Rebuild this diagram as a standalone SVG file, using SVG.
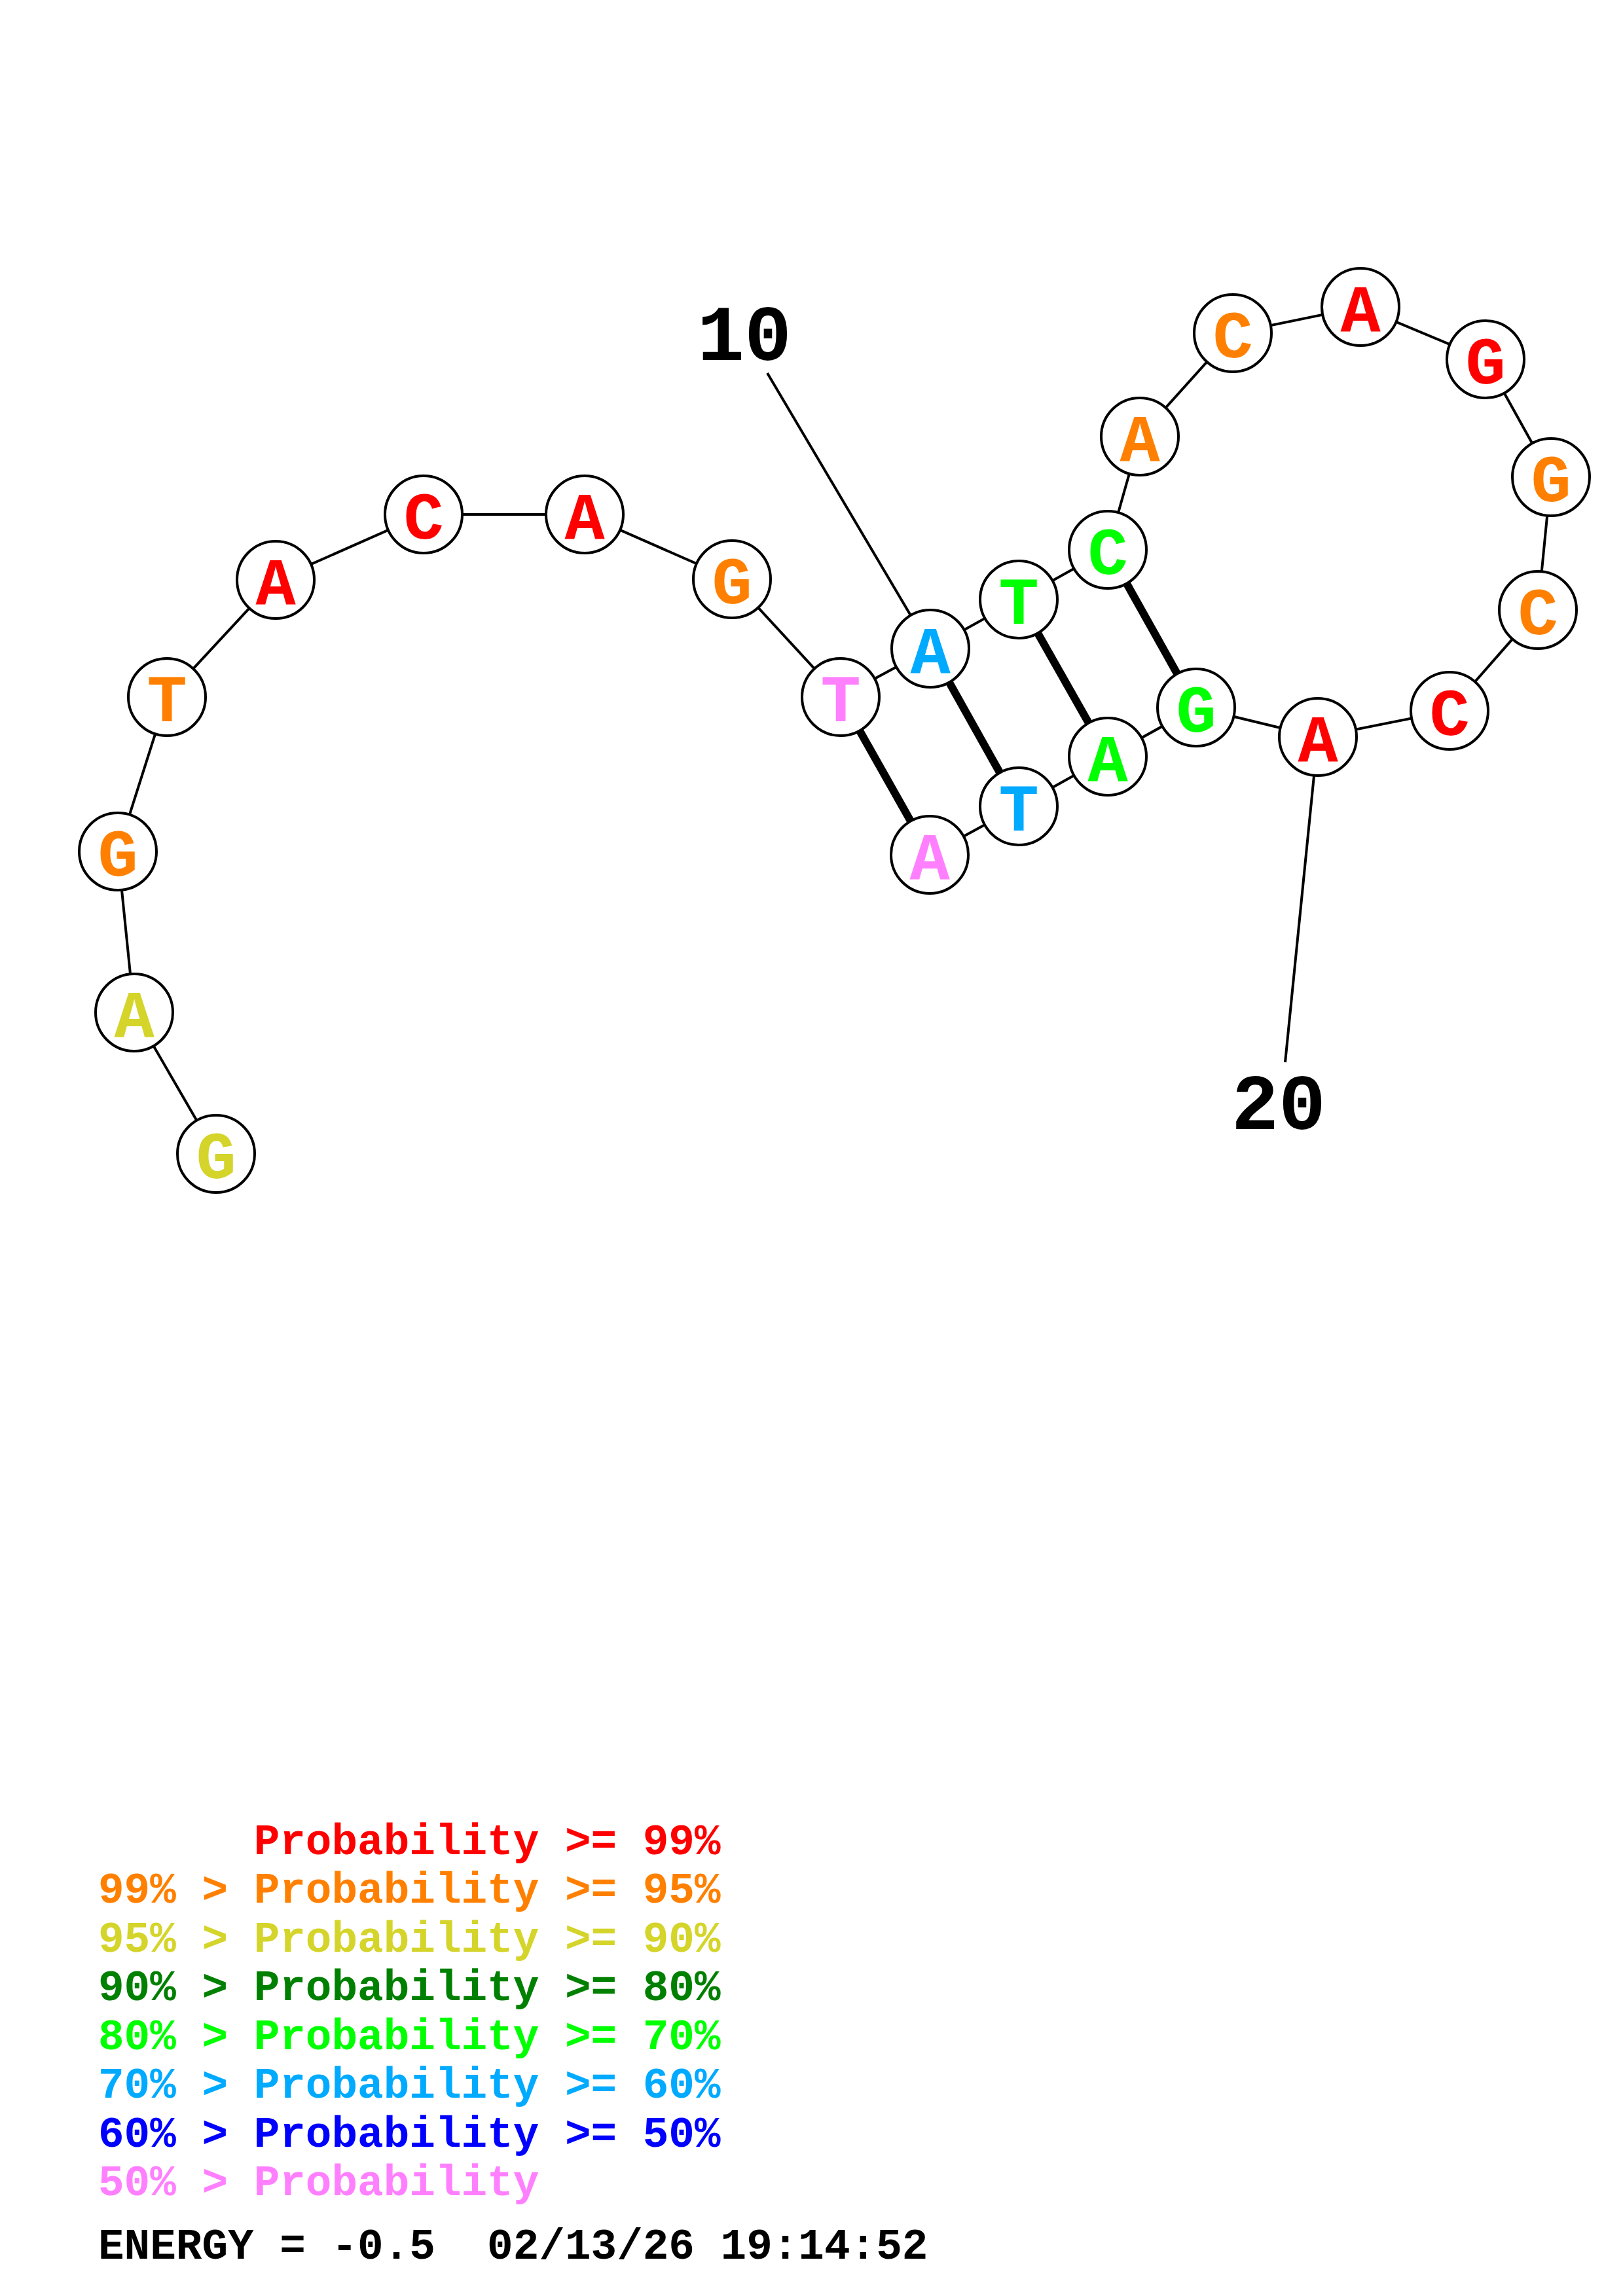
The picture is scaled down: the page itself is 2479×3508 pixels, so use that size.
<svg xmlns="http://www.w3.org/2000/svg" width="2479" height="3508" viewBox="0 0 2479 3508">
<style>
.bb{stroke:#000;stroke-width:4;fill:none}
.bp{stroke:#000;stroke-width:12;fill:none}
.lbl{stroke:#000;stroke-width:4;fill:none}
.nd circle{fill:#fff;stroke:#000;stroke-width:4}
.nd text{font-family:"Liberation Mono","Courier New",monospace;font-weight:bold;font-size:102px;text-anchor:middle}
.num{font-family:"Liberation Mono","Courier New",monospace;font-weight:bold;font-size:120px;text-anchor:middle;fill:#000}
.leg{font-family:"Liberation Mono","Courier New",monospace;font-weight:bold;font-size:66px;white-space:pre}
.r{fill:#FF0000}.o{fill:#FF8000}.y{fill:#D4D42A}.dg{fill:#008000}.g{fill:#00FF00}.s{fill:#00AAFF}.b{fill:#0000FF}.p{fill:#FF80FF}
</style>
<rect width="2479" height="3508" fill="#fff"/>
<g id="connectors">
<polyline class="bb" points="330,1763 205,1547 180,1301 255,1065 421,886 647,786 893,786 1118,885 1284,1065 1421,991 1556,916 1692,840 1741,667 1883,509 2078,469 2269,549 2369,729 2349,932 2214,1086 2013,1126 1827,1081 1692,1156 1556,1232 1420,1306"/>
<line class="bp" x1="1284" y1="1065" x2="1420" y2="1306"/>
<line class="bp" x1="1421" y1="991" x2="1556" y2="1232"/>
<line class="bp" x1="1556" y1="916" x2="1692" y2="1156"/>
<line class="bp" x1="1692" y1="840" x2="1827" y2="1081"/>
<line class="lbl" x1="1172" y1="570" x2="1421" y2="991"/>
<line class="lbl" x1="2013" y1="1126" x2="1963" y2="1623"/>
</g>
<text class="num" x="1137" y="550">10</text>
<text class="num" x="1953" y="1725">20</text>
<g id="n1" class="nd"><circle cx="330" cy="1763" r="59"/><text class="y" x="330" y="1800">G</text></g>
<g id="n2" class="nd"><circle cx="205" cy="1547" r="59"/><text class="y" x="205" y="1584">A</text></g>
<g id="n3" class="nd"><circle cx="180" cy="1301" r="59"/><text class="o" x="180" y="1338">G</text></g>
<g id="n4" class="nd"><circle cx="255" cy="1065" r="59"/><text class="o" x="255" y="1102">T</text></g>
<g id="n5" class="nd"><circle cx="421" cy="886" r="59"/><text class="r" x="421" y="923">A</text></g>
<g id="n6" class="nd"><circle cx="647" cy="786" r="59"/><text class="r" x="647" y="823">C</text></g>
<g id="n7" class="nd"><circle cx="893" cy="786" r="59"/><text class="r" x="893" y="823">A</text></g>
<g id="n8" class="nd"><circle cx="1118" cy="885" r="59"/><text class="o" x="1118" y="922">G</text></g>
<g id="n9" class="nd"><circle cx="1284" cy="1065" r="59"/><text class="p" x="1284" y="1102">T</text></g>
<g id="n10" class="nd"><circle cx="1421" cy="991" r="59"/><text class="s" x="1421" y="1028">A</text></g>
<g id="n11" class="nd"><circle cx="1556" cy="916" r="59"/><text class="g" x="1556" y="953">T</text></g>
<g id="n12" class="nd"><circle cx="1692" cy="840" r="59"/><text class="g" x="1692" y="877">C</text></g>
<g id="n13" class="nd"><circle cx="1741" cy="667" r="59"/><text class="o" x="1741" y="704">A</text></g>
<g id="n14" class="nd"><circle cx="1883" cy="509" r="59"/><text class="o" x="1883" y="546">C</text></g>
<g id="n15" class="nd"><circle cx="2078" cy="469" r="59"/><text class="r" x="2078" y="506">A</text></g>
<g id="n16" class="nd"><circle cx="2269" cy="549" r="59"/><text class="r" x="2269" y="586">G</text></g>
<g id="n17" class="nd"><circle cx="2369" cy="729" r="59"/><text class="o" x="2369" y="766">G</text></g>
<g id="n18" class="nd"><circle cx="2349" cy="932" r="59"/><text class="o" x="2349" y="969">C</text></g>
<g id="n19" class="nd"><circle cx="2214" cy="1086" r="59"/><text class="r" x="2214" y="1123">C</text></g>
<g id="n20" class="nd"><circle cx="2013" cy="1126" r="59"/><text class="r" x="2013" y="1163">A</text></g>
<g id="n21" class="nd"><circle cx="1827" cy="1081" r="59"/><text class="g" x="1827" y="1118">G</text></g>
<g id="n22" class="nd"><circle cx="1692" cy="1156" r="59"/><text class="g" x="1692" y="1193">A</text></g>
<g id="n23" class="nd"><circle cx="1556" cy="1232" r="59"/><text class="s" x="1556" y="1269">T</text></g>
<g id="n24" class="nd"><circle cx="1420" cy="1306" r="59"/><text class="p" x="1420" y="1343">A</text></g>
<g id="legend">
<text class="leg r" x="150" y="2833">      Probability &gt;= 99%</text>
<text class="leg o" x="150" y="2907">99% &gt; Probability &gt;= 95%</text>
<text class="leg y" x="150" y="2982">95% &gt; Probability &gt;= 90%</text>
<text class="leg dg" x="150" y="3056">90% &gt; Probability &gt;= 80%</text>
<text class="leg g" x="150" y="3131">80% &gt; Probability &gt;= 70%</text>
<text class="leg s" x="150" y="3205">70% &gt; Probability &gt;= 60%</text>
<text class="leg b" x="150" y="3280">60% &gt; Probability &gt;= 50%</text>
<text class="leg p" x="150" y="3354">50% &gt; Probability</text>
<text class="leg" x="150" y="3451" fill="#000">ENERGY = -0.5  02/13/26 19:14:52</text>
</g>
</svg>
